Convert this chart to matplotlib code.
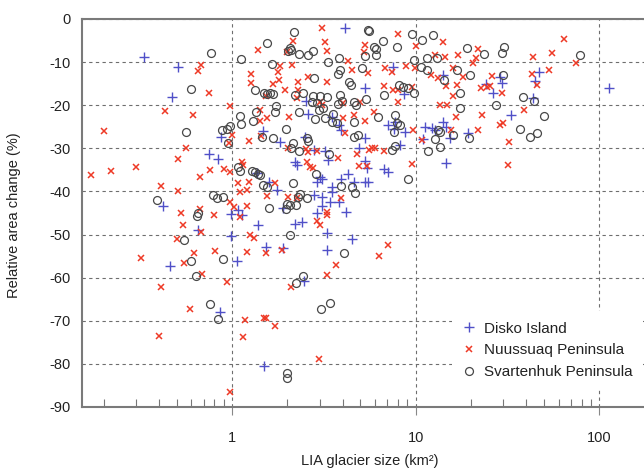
import numpy as np
import matplotlib
matplotlib.use("Agg")
import matplotlib.pyplot as plt
from matplotlib.ticker import FixedLocator, FixedFormatter, NullFormatter

plt.rcParams['font.family'] = ['Liberation Sans', 'DejaVu Sans']

# ====== DATA: LIA glacier size (km2) vs relative area change (%) ======
disko_size = [0.33, 0.51, 0.47, 0.42, 0.46, 0.86, 0.99, 0.65, 0.99,
              2.53, 2.6, 0.87, 1.48, 2.5,
              4.1, 7.5, 14.1, 5.3, 8.6, 3.5, 3.8, 3.9, 7.1, 7.7, 7.6, 8.7,
              11.2, 12.2, 12.7, 14.1, 14.7, 19.3,
              28.8, 29.4, 47, 44.6, 24.1, 26.2, 43.7, 33, 113,
              5.3, 11, 15.4, 14.6, 3.35, 4.9, 8.2, 5.3, 5.4, 5.3, 5.5, 6.7,
              7.1, 3.9, 4.3, 4.6, 3.5, 3.5, 3.4, 3.8, 4.2, 4.5,
              1.83, 2.8, 3.2, 0.75, 0.84, 1.36, 1.58, 1.75, 1.9, 1.08, 1.13,
              1.39, 2.2, 2.4, 2.9, 3.1, 2.8, 3.1, 2.9, 2.2, 2.25, 3.0, 3.08,
              1.53, 1.9, 1.07, 2.47, 1.5, 3.3, 3.3]
disko_change = [-8.9, -11.1, -18.0, -43.3, -57.3, -68.0, -45.2, -49.0, -50.3,
                -19.0, -22.0, -27.3, -26.0, -27.4,
                -2.0, -11.1, -13.0, -15.9, -17.5, -22.7, -24.6, -25.7, -24.6,
                -23.8, -25.5, -26.3, -25.0, -25.2, -25.7, -23.8, -25.0, -26.5,
                -13.5, -14.8, -12.2, -14.3, -15.1, -17.1, -18.4, -22.3, -15.9,
                -27.7, -27.8, -27.5, -33.5, -32.7, -30.0, -29.2, -32.9, -34.6,
                -37.7, -37.7, -34.8, -35.6, -37.0, -36.0, -37.7, -38.9, -40.1,
                -42.4, -42.4, -44.7, -51.0,
                -28.6, -30.4, -30.6, -31.2, -32.5, -35.8, -37.7, -39.7, -43.9,
                -44.3, -45.5, -47.8, -47.6, -47.2, -45.1, -43.3, -40.8, -41.2,
                -37.7, -33.1, -33.9, -36.6, -37.0, -52.8, -53.2,
                -56.1, -60.8, -80.5, -49.7, -53.6]

nuussuaq_size = [0.43, 0.2, 0.17, 0.22, 0.3, 0.51, 0.41, 0.51, 0.5, 0.32,
                 0.55, 0.69, 0.94, 0.41, 0.59, 0.4, 0.97, 0.67, 0.975, 0.53,
                 0.8, 0.54, 0.68, 0.62, 0.81,
                 3.1, 3.2, 2.16, 2.0, 3.3, 1.38, 1.83, 2.12, 0.68, 0.65, 1.27,
                 1.27, 1.77, 1.8, 1.67, 2.6, 2.3, 3.28, 0.75, 1.95, 1.53, 2.3,
                 2.27, 3.0, 3.08, 0.97, 1.42, 0.61, 1.42, 1.56, 2.04, 1.0, 1.43,
                 5.3, 8.0, 10.0, 14.0, 5.25, 4.3, 4.5, 5.5, 6.8, 7.4, 8.9, 9.9,
                 12.7, 14.4, 16.9, 12.1, 16.0, 18.2, 6.75, 7.5, 8.0, 9.6, 13.3,
                 14.6, 16.7, 16.0, 4.0, 5.0, 8.0, 13.6, 14.9, 4.0, 4.6, 5.3, 5.9,
                 9.7, 15.6, 4.1,
                 64, 21.9, 43.7, 55, 74.6, 20.6, 21.3, 25.9, 42.8, 53, 46, 22.7,
                 24.4, 25.4, 29.4, 38.9, 16.6, 22.9, 28.8, 29.8, 21.9, 32.3,
                 10.8, 3.76, 4.8, 5.6, 5.8, 6.0, 6.7, 4.9, 5.4, 9.6, 3.9, 3.3,
                 7.1, 6.3,
                 1.23, 2.03, 2.53, 2.6, 2.9, 0.56, 0.96, 0.67, 0.76, 0.9, 0.975,
                 1.15, 1.13, 1.08, 1.23, 1.2, 1.1, 1.71, 1.56, 2.03, 2.27, 1.2,
                 1.02, 1.1, 2.9, 3.0, 3.28, 2.55, 2.66, 2.77, 1.25, 1.31, 1.53,
                 1.86, 1.2,
                 3.7, 3.3, 2.1, 1.18, 1.5, 1.54, 1.71, 1.15, 2.96, 31.7]
nuussuaq_change = [-21.3, -25.9, -36.2, -35.2, -34.4, -32.5, -38.7, -39.8,
                   -51.0, -55.5, -56.7, -59.1, -60.9, -62.1, -67.2, -73.5,
                   -86.6, -44.1, -42.5, -45.1, -45.5, -47.7, -49.5, -54.2, -53.8,
                   -2.2, -5.4, -5.1, -7.7, -7.4, -7.2, -10.8, -10.7, -10.7, -12.1,
                   -12.8, -14.8, -12.4, -14.1, -15.0, -13.4, -14.5, -14.5, -17.1,
                   -16.4, -17.9, -16.5, -18.3, -19.3, -19.9, -20.1, -21.1, -22.3,
                   -23.7, -23.0, -22.7, -26.9, -27.1,
                   -6.0, -3.5, -6.2, -5.4, -7.7, -9.7, -11.8, -12.6, -11.4, -12.2,
                   -10.8, -11.4, -8.4, -8.7, -8.4, -13.0, -11.4, -13.4, -15.5,
                   -16.5, -16.5, -15.7, -13.8, -15.5, -15.3, -17.8, -19.6, -19.3,
                   -19.3, -19.9, -19.9, -23.0, -22.3, -23.7, -21.5, -25.7, -25.7,
                   -26.5,
                   -4.6, -7.0, -8.7, -8.0, -10.3, -10.1, -9.1, -13.2, -12.8, -11.8,
                   -15.3, -16.1, -15.8, -15.5, -17.2, -21.1, -22.7, -22.3, -24.6,
                   -24.2, -25.7, -28.5,
                   -28.1, -32.3, -31.2, -30.4, -30.0, -29.9, -30.6, -34.0, -34.0,
                   -33.7, -41.6, -44.7, -52.4, -54.9,
                   -28.2, -30.0, -30.2, -30.8, -30.6, -30.0, -28.8, -36.6, -35.0,
                   -34.9, -35.4, -33.9, -33.1, -38.1, -37.7, -39.7, -40.1, -38.1,
                   -41.0, -41.2, -41.6, -43.3, -43.5, -45.9, -46.9, -47.8, -45.5,
                   -33.1, -34.3, -34.6, -50.1, -50.9, -54.3, -53.6, -54.1,
                   -57.1, -59.4, -62.1, -69.8, -69.3, -69.4, -71.1, -73.7, -78.9,
                   -33.9]

svartenhuk_size = [0.39, 0.6, 0.64, 0.76, 0.84, 0.79, 0.83, 0.89, 0.65, 0.645,
                   0.55, 0.89,
                   2.17, 2.07, 2.03, 2.1, 2.32, 2.58, 2.75, 1.55, 0.77, 1.12,
                   1.65, 3.32, 2.8, 0.6, 1.33, 1.49, 1.56, 1.62, 1.67, 2.2, 2.44,
                   2.75, 3.0, 3.28, 2.72, 2.91, 3.14, 2.99, 1.73, 1.71, 1.35, 1.1,
                   1.12, 1.3, 2.32, 2.83, 3.2, 0.97, 0.94, 0.88, 1.97, 0.56,
                   5.5, 5.6, 5.95, 6.06, 6.66, 7.9, 9.5, 10.8, 12.5, 19.0, 5.3,
                   6.1, 3.8, 3.87, 3.79, 5.1, 9.8, 10.7, 11.5, 13.0, 11.5, 14.3,
                   16.7, 19.8, 4.33, 4.44, 8.1, 8.56, 9.1, 9.8, 6.75, 17.4, 3.87,
                   3.96, 3.79, 4.63, 4.71, 5.34, 17.4, 3.56, 3.71, 3.49, 4.63,
                   6.2, 7.7, 7.9, 8.2, 7.65, 13.2, 13.6, 16.0, 4.63, 4.87,
                   23.6, 30.3, 29.4, 78.4, 30.0, 27.4, 38.5, 44.2, 49.9, 37.0,
                   41.9, 45.6, 19.6,
                   12.7, 13.6, 11.6, 3.37, 7.4, 7.7, 9.05, 3.92, 4.48, 4.67, 4.09,
                   1.45, 1.67, 2.16, 2.09, 2.33, 2.55, 2.6, 0.955, 1.08, 1.105,
                   1.28, 1.33, 1.39, 1.42, 1.47, 1.55, 2.16, 2.3, 2.34, 2.55,
                   1.58, 1.99, 2.07, 2.23, 1.97, 2.87, 2.07,
                   2.44, 2.24, 3.04, 3.4, 2.0, 2.0]
svartenhuk_change = [-42.0, -56.1, -59.7, -66.1, -69.6, -40.9, -41.5, -41.2,
                     -45.1, -45.6, -51.3, -55.6,
                     -2.9, -6.8, -7.4, -7.1, -8.1, -8.4, -7.4, -5.5, -8.0, -9.3,
                     -10.4, -9.9, -13.8, -16.3, -16.5, -17.1, -17.5, -17.1, -17.3,
                     -17.6, -17.2, -17.8, -17.9, -18.0, -19.3, -19.6, -20.7,
                     -21.1, -20.1, -21.5, -21.5, -22.4, -24.4, -23.7, -21.5,
                     -23.3, -22.9, -24.8, -25.4, -25.7, -25.5, -26.1,
                     -2.6, -2.8, -6.4, -7.0, -5.1, -6.4, -3.5, -4.9, -3.7, -6.8,
                     -8.6, -8.4, -9.1, -11.8, -12.8, -11.4, -9.5, -11.2, -9.1,
                     -9.1, -11.8, -14.1, -11.8, -13.0, -14.5, -15.3, -15.3, -15.7,
                     -16.1, -17.2, -17.6, -17.2, -17.6, -19.0, -19.8, -19.3,
                     -19.9, -18.6, -20.6, -22.1, -24.2, -23.8, -24.0, -22.7,
                     -22.3, -24.2, -24.6, -26.3, -25.7, -26.3, -26.9, -27.3, -26.9,
                     -8.1, -6.4, -7.8, -8.4, -13.0, -19.9, -18.2, -19.0, -22.5,
                     -25.4, -27.3, -26.4, -27.7,
                     -27.8, -29.6, -30.6, -31.2, -30.4, -29.4, -37.0, -38.7,
                     -38.9, -40.4, -54.3,
                     -27.3, -27.5, -28.8, -30.0, -30.6, -27.7, -28.3, -28.8,
                     -34.3, -35.3, -35.3, -35.6, -36.0, -36.3, -38.5, -38.9,
                     -38.1, -41.2, -40.7, -41.6, -43.8, -42.8, -43.1, -43.1,
                     -44.1, -36.0, -50.1,
                     -59.6, -61.3, -67.3, -65.9, -82.2, -83.2]

y_ticks = np.arange(-90, 1, 10)
x_major = [1, 10, 100]
x_minor = [0.2, 0.3, 0.4, 0.5, 0.6, 0.7, 0.8, 0.9,
           2, 3, 4, 5, 6, 7, 8, 9,
           20, 30, 40, 50, 60, 70, 80, 90]

# ====== FIGURE ======
fig = plt.figure(figsize=(6.44, 4.71), dpi=100)
ax = fig.add_axes([82/644, 64/471, 562/644, 388/471])

ax.plot(disko_size, disko_change, ls='none', marker='+', ms=6.5, mew=1.0,
        color='#5050c8', label='Disko Island')
ax.plot(nuussuaq_size, nuussuaq_change, ls='none', marker='x', ms=4.8, mew=1.1,
        color='#ee3a26', label='Nuussuaq Peninsula')
ax.plot(svartenhuk_size, svartenhuk_change, ls='none', marker='o', ms=5.7,
        mew=0.9, mfc='none', mec='#474747', label='Svartenhuk Peninsula')

ax.set_xscale('log')
ax.set_xlim(0.1525, 175)
ax.set_ylim(-90, 0)

ax.set_yticks(y_ticks)
ax.set_yticklabels([str(v) for v in y_ticks])
ax.xaxis.set_major_locator(FixedLocator(x_major))
ax.xaxis.set_major_formatter(FixedFormatter([str(v) for v in x_major]))
ax.xaxis.set_minor_locator(FixedLocator(x_minor))
ax.xaxis.set_minor_formatter(NullFormatter())

ax.grid(True, which='major', ls=(0, (3, 3)), color='#6e6e6e', lw=0.8)

ax.tick_params(axis='y', length=0, pad=8, labelsize=10.5, labelcolor='#222222')
ax.tick_params(axis='x', which='major', direction='out', length=6, width=0.8,
               color='#888888', pad=11, labelsize=10.5, labelcolor='#222222')
ax.tick_params(axis='x', which='minor', direction='in', length=6, width=0.8,
               color='#777777')

for side in ['left', 'bottom', 'top']:
    ax.spines[side].set_color('#7a7a7a')
    ax.spines[side].set_linewidth(1.5)
ax.spines['right'].set_visible(False)

ax.set_xlabel('LIA glacier size (km²)', fontsize=10.5, color='#222222')
ax.xaxis.label.set_va('center')
ax.xaxis.set_label_coords(0.5125, -0.139)
ax.set_ylabel('Relative area change (%)', fontsize=10.5, color='#222222')
ax.yaxis.label.set_va('center')
ax.yaxis.set_label_coords(-0.121, 0.495)

leg = ax.legend(loc='upper left', bbox_to_anchor=(452/644, 1 - 311/471),
                bbox_transform=fig.transFigure, frameon=True, fancybox=False,
                framealpha=1, edgecolor='none', facecolor='white', fontsize=11,
                handlelength=0.8, handletextpad=0.6, borderpad=0.7,
                labelspacing=0.5, borderaxespad=0)
for t in leg.get_texts():
    t.set_color('#222222')

fig.savefig('out.png', dpi=100)
